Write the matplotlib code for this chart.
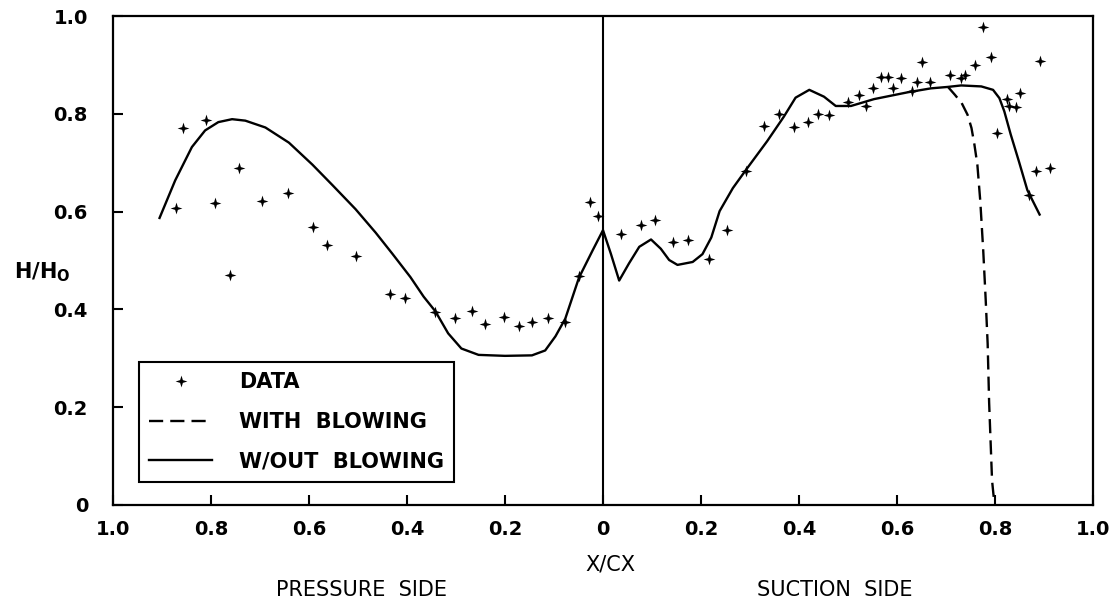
import numpy as np
import matplotlib
matplotlib.use("Agg")
import matplotlib.pyplot as plt
from matplotlib.path import Path

plt.rcParams['font.family'] = ['DejaVu Sans']
plt.rcParams['mathtext.fontset'] = 'dejavusans'

# ---- data (negative x = pressure side, positive x = suction side) ----
data_x = [-0.872, -0.858, -0.811, -0.791, -0.762, -0.743, -0.696, -0.642, -0.591,
          -0.563, -0.505, -0.434, -0.404, -0.343, -0.302, -0.267, -0.241, -0.202,
          -0.172, -0.145, -0.113, -0.078, -0.049, -0.027, -0.011,
          0.037, 0.078, 0.107, 0.142, 0.174, 0.217, 0.254, 0.292, 0.328, 0.360,
          0.389, 0.418, 0.439, 0.461, 0.500, 0.523, 0.537, 0.552, 0.568, 0.581,
          0.591, 0.608, 0.630, 0.641, 0.651, 0.668, 0.709, 0.731, 0.739, 0.760,
          0.775, 0.791, 0.805, 0.825, 0.828, 0.842, 0.852, 0.870, 0.883, 0.891,
          0.912]
data_h = [0.607, 0.771, 0.788, 0.618, 0.470, 0.689, 0.622, 0.638, 0.568,
          0.531, 0.510, 0.431, 0.424, 0.395, 0.382, 0.396, 0.371, 0.385,
          0.367, 0.374, 0.383, 0.375, 0.468, 0.620, 0.592,
          0.554, 0.573, 0.583, 0.538, 0.542, 0.504, 0.563, 0.683, 0.775, 0.800,
          0.774, 0.784, 0.799, 0.797, 0.825, 0.839, 0.816, 0.853, 0.876, 0.876,
          0.852, 0.874, 0.847, 0.865, 0.905, 0.865, 0.880, 0.873, 0.880, 0.900,
          0.978, 0.917, 0.760, 0.830, 0.815, 0.813, 0.842, 0.633, 0.683, 0.908,
          0.689]

without_x = [-0.905, -0.873, -0.839, -0.812, -0.785, -0.757, -0.730, -0.689, -0.641,
             -0.593, -0.552, -0.505, -0.464, -0.430, -0.393, -0.366, -0.342, -0.316,
             -0.289, -0.254, -0.200, -0.145, -0.118, -0.097, -0.077, -0.049, -0.021,
             0.000, 0.016, 0.033, 0.053, 0.074, 0.098, 0.118, 0.135, 0.152, 0.183,
             0.203, 0.221, 0.238, 0.265, 0.293, 0.335, 0.369, 0.393, 0.421, 0.451,
             0.475, 0.506, 0.553, 0.622, 0.669, 0.704, 0.731, 0.772, 0.796, 0.809,
             0.819, 0.832, 0.849, 0.866, 0.891]
without_h = [0.587, 0.664, 0.732, 0.766, 0.783, 0.789, 0.786, 0.772, 0.741,
             0.696, 0.654, 0.605, 0.557, 0.514, 0.466, 0.426, 0.396, 0.351,
             0.320, 0.307, 0.305, 0.306, 0.316, 0.345, 0.381, 0.465, 0.521,
             0.562, 0.514, 0.459, 0.494, 0.528, 0.543, 0.524, 0.501, 0.491, 0.497,
             0.513, 0.547, 0.601, 0.648, 0.687, 0.744, 0.794, 0.833, 0.849, 0.835,
             0.816, 0.816, 0.830, 0.844, 0.852, 0.855, 0.858, 0.856, 0.849, 0.832,
             0.805, 0.758, 0.702, 0.644, 0.594]

with_x = [0.704, 0.718, 0.732, 0.744, 0.752, 0.758, 0.764, 0.770, 0.776, 0.781,
          0.785, 0.788, 0.794, 0.799]
with_h = [0.855, 0.839, 0.822, 0.798, 0.771, 0.737, 0.696, 0.621, 0.520, 0.420,
          0.330, 0.210, 0.050, 0.000]

x_ticks = [-1.0, -0.8, -0.6, -0.4, -0.2, 0.0, 0.2, 0.4, 0.6, 0.8, 1.0]
x_tick_labels = ["1.0", "0.8", "0.6", "0.4", "0.2", "0", "0.2", "0.4", "0.6", "0.8", "1.0"]
y_ticks = [0.0, 0.2, 0.4, 0.6, 0.8, 1.0]
y_tick_labels = ["0", "0.2", "0.4", "0.6", "0.8", "1.0"]

# ---- figure ----
fig = plt.figure(figsize=(11.16, 6.02), dpi=100)
ax = fig.add_axes([113/1116, 97/602, 980/1116, (505-16)/602])

star = Path.unit_regular_star(4, innerCircle=0.33)

ax.plot(data_x, data_h, ls='none', marker=star, markersize=8.5, color='black',
        markeredgewidth=0, label='DATA')
ax.plot(with_x, with_h, color='black', lw=1.7, dashes=(6, 3), label='WITH  BLOWING')
ax.plot(without_x, without_h, color='black', lw=1.7, label='W/OUT  BLOWING')
ax.axvline(0.0, color='black', lw=1.5)

ax.set_xlim(-1.0, 1.0)
ax.set_ylim(0.0, 1.0)
ax.set_xticks(x_ticks)
ax.set_xticklabels(x_tick_labels)
ax.set_yticks(y_ticks)
ax.set_yticklabels(y_tick_labels)
ax.tick_params(direction='in', length=7, width=1.5, labelsize=14)
ax.tick_params(axis='x', pad=11)
ax.tick_params(axis='y', pad=18)
for lab in ax.get_xticklabels() + ax.get_yticklabels():
    lab.set_fontweight('bold')
for sp in ax.spines.values():
    sp.set_linewidth(1.6)

leg = ax.legend(loc='lower left', bbox_to_anchor=(0.0265, 0.047), borderaxespad=0,
                frameon=True, fancybox=False, edgecolor='black', framealpha=1,
                numpoints=1, handlelength=3.0, handletextpad=1.3, labelspacing=0.95,
                borderpad=0.5, prop={'weight': 'bold', 'size': 15})
leg.get_frame().set_linewidth(1.5)

fig.text(610/1116, 1 - 565/602, 'X/CX', ha='center', va='center', fontsize=15)
fig.text(362/1116, 1 - 590/602, 'PRESSURE  SIDE', ha='center', va='center', fontsize=15)
fig.text(835/1116, 1 - 590/602, 'SUCTION  SIDE', ha='center', va='center', fontsize=15)
fig.text(14/1116, 1 - 272/602, r'$\mathbf{H/H_O}$', ha='left', va='center', fontsize=15)

fig.savefig('out.png', dpi=100)
